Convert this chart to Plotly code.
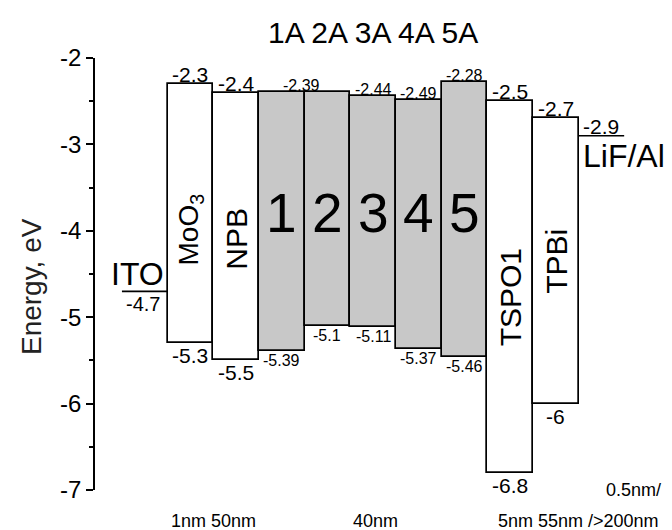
import plotly.graph_objects as go

# ---- data ----
layers = ["MoO<sub>3</sub>", "NPB", "1", "2", "3", "4", "5", "TSPO1", "TPBi"]
lumo = [-2.3, -2.4, -2.39, -2.39, -2.44, -2.49, -2.28, -2.5, -2.7]
homo = [-5.3, -5.5, -5.39, -5.1, -5.11, -5.37, -5.46, -6.8, -6.0]
lumo_labels = ["-2.3", "-2.4", "-2.39", "", "-2.44", "-2.49", "-2.28", "-2.5", "-2.7"]
homo_labels = ["-5.3", "-5.5", "-5.39", "-5.1", "-5.11", "-5.37", "-5.46", "-6.8", "-6"]
is_eml = [False, False, True, True, True, True, True, False, False]
ito_wf = -4.7
cathode_wf = -2.9
ito_label = "-4.7"
cathode_label = "-2.9"
yticks = [-7, -6, -5, -4, -3, -2]
ytick_text = ["-7", "-6", "-5", "-4", "-3", "-2"]
thickness_labels = ["1nm 50nm", "40nm", "5nm 55nm />200nm", "0.5nm/"]
title_text = "1A 2A 3A 4A 5A"
y_title = "Energy, eV"

FONT = "Liberation Sans, Arial, sans-serif"
GRAY = "#c8c8c8"

n = len(layers)
centers = [1.5 + i for i in range(n)]  # ITO occupies [0,1], layers follow, cathode after

fig = go.Figure()
fig.add_trace(go.Bar(
    x=centers,
    y=[t - b for t, b in zip(lumo, homo)],
    base=homo,
    width=1,
    marker=dict(color=[GRAY if e else "white" for e in is_eml],
                line=dict(color="black", width=1.7)),
    hoverinfo="skip",
    showlegend=False,
))
# electrodes
fig.add_trace(go.Scatter(x=[0, 1], y=[ito_wf, ito_wf], mode="lines",
                         line=dict(color="black", width=1.7), showlegend=False))
fig.add_trace(go.Scatter(x=[n + 1, n + 2], y=[cathode_wf, cathode_wf], mode="lines",
                         line=dict(color="black", width=1.7), showlegend=False))

ann = []
def A(**kw):
    base = dict(xref="x", yref="y", showarrow=False, xanchor="center", yanchor="middle",
                font=dict(family=FONT, color="black"))
    f = kw.pop("font", {})
    base["font"].update(f)
    base.update(kw)
    ann.append(base)

for i in range(n):
    small = is_eml[i]
    fs = 16 if small else 21
    if lumo_labels[i]:
        xs = 0.5 if (i + 1 < n and lumo[i + 1] == lumo[i] and is_eml[i + 1]) else 0
        A(x=centers[i] + xs, y=lumo[i], text=lumo_labels[i], yanchor="bottom",
          yshift=-4, xshift=-3 if xs else 0, font=dict(size=fs))
    A(x=centers[i], y=homo[i], text=homo_labels[i], yanchor="top",
      yshift=1, font=dict(size=fs))

# layer names
name_y = {"MoO<sub>3</sub>": -3.98, "NPB": -4.09, "TSPO1": -4.77, "TPBi": -4.35}
for i in range(n):
    if is_eml[i]:
        A(x=centers[i], y=-3.79, text=layers[i], font=dict(size=55))
    else:
        A(x=centers[i], y=name_y[layers[i]], text=layers[i], textangle=-90,
          font=dict(size=28 if i == 0 else 30))

A(x=0.5, y=ito_wf, text="ITO", yanchor="bottom", yshift=-3, xshift=-7, font=dict(size=32))
A(x=0.5, y=ito_wf, text=ito_label, yanchor="top", xshift=-2, yshift=0, font=dict(size=20))
A(x=n + 1.5, y=cathode_wf, text=cathode_label, yanchor="bottom", yshift=-4, font=dict(size=21))
A(x=n + 1.05, y=cathode_wf, text="LiF/Al", yanchor="top", xanchor="left", yshift=0,
  font=dict(size=32))

A(x=5.5, y=1.06, yref="paper", text=title_text, font=dict(size=30))
A(x=-0.114, xref="paper", y=0.47, yref="paper", text=y_title, textangle=-90,
  font=dict(size=28, color="#222222"))

A(x=2.0, y=-0.072, yref="paper", text=thickness_labels[0], font=dict(size=18))
A(x=5.55, y=-0.072, yref="paper", text=thickness_labels[1], font=dict(size=18))
A(x=n + 1.0, y=-0.072, yref="paper", text=thickness_labels[2], font=dict(size=18))
A(x=1.029, xref="paper", y=0.0, yref="paper", text=thickness_labels[3], xanchor="right",
  font=dict(size=18))

fig.update_layout(
    width=672, height=530,
    margin=dict(l=95, r=25, t=58, b=40),
    plot_bgcolor="white", paper_bgcolor="white",
    annotations=ann,
    bargap=0,
    xaxis=dict(range=[-0.59, 11.5], visible=False),
    yaxis=dict(
        range=[-7, -2], showgrid=False, zeroline=False,
        showline=True, linecolor="black", linewidth=1.8,
        ticks="outside", ticklen=7, tickwidth=1.8, tickcolor="black",
        tickvals=yticks, ticktext=ytick_text,
        tickfont=dict(family=FONT, size=24, color="black"),
        minor=dict(dtick=0.5, ticks="outside", ticklen=4, tickwidth=1.5, tickcolor="black"),
    ),
    font=dict(family=FONT),
)

fig.write_html("out.html")
